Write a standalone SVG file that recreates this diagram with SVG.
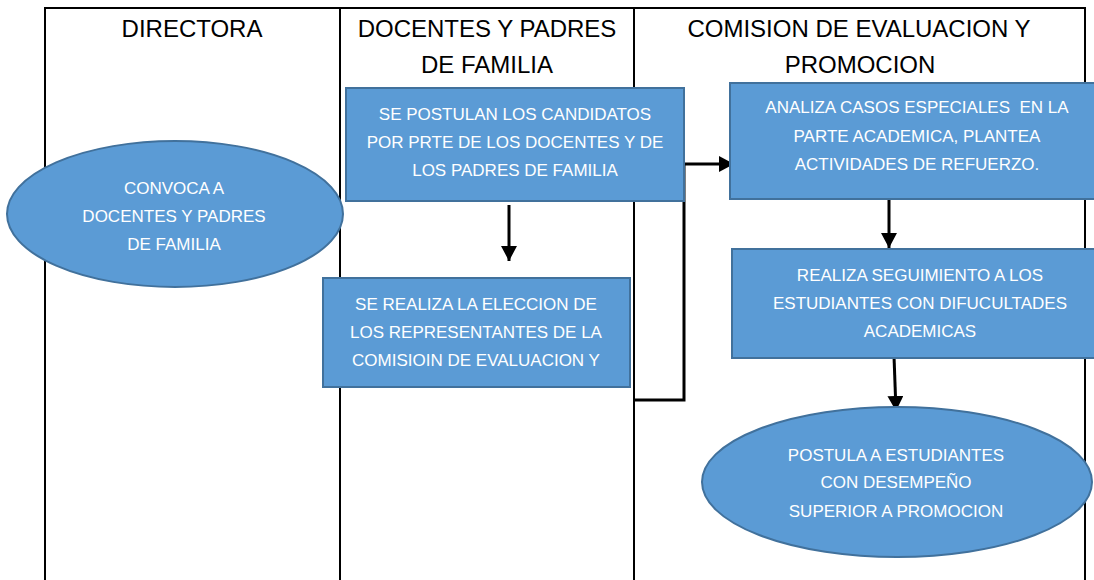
<svg xmlns="http://www.w3.org/2000/svg" width="1094" height="580" viewBox="0 0 1094 580">
<style>
.lane{fill:none;stroke:#000;stroke-width:2}
.hdr{font-family:"Liberation Sans",Arial,sans-serif;font-size:24px;fill:#000;text-anchor:middle}
.box{fill:#5B9BD5;stroke:#41719C;stroke-width:2}
.t{font-family:"Liberation Sans",Arial,sans-serif;font-size:17px;fill:#fff;text-anchor:middle;white-space:pre}
.conn{fill:none;stroke:#000;stroke-width:3}
</style>
<defs>
<marker id="ah" markerUnits="userSpaceOnUse" markerWidth="16" markerHeight="16" refX="15" refY="8" orient="auto">
<path d="M0,0 L15,8 L0,16 Z" fill="#000"/>
</marker>
</defs>
<rect width="1094" height="580" fill="#fff"/>
<g id="lanes">
<path class="lane" d="M45,580 V8 H1085 V580"/>
<path class="lane" d="M340,8 V580"/>
<path class="lane" d="M634,8 V580"/>
<text class="hdr" x="192" y="37">DIRECTORA</text>
<text class="hdr" x="487" y="37">DOCENTES Y PADRES</text>
<text class="hdr" x="487" y="73">DE FAMILIA</text>
<text class="hdr" x="859" y="37">COMISION DE EVALUACION Y</text>
<text class="hdr" x="860" y="73">PROMOCION</text>
</g>
<g id="connectors">
<path class="conn" d="M509,205 V261" marker-end="url(#ah)"/>
<path class="conn" d="M634,400 H684 V164 H734" marker-end="url(#ah)"/>
<path class="conn" d="M889,193 V248" marker-end="url(#ah)"/>
<path class="conn" d="M894,356 L896,411" marker-end="url(#ah)"/>
</g>
<g id="n1">
<ellipse class="box" cx="175" cy="214" rx="168" ry="73"/>
<text class="t" x="174" y="194">CONVOCA A</text>
<text class="t" x="174" y="222">DOCENTES Y PADRES</text>
<text class="t" x="174" y="250">DE FAMILIA</text>
</g>
<g id="n2">
<rect class="box" x="346" y="88" width="338" height="113"/>
<text class="t" x="515" y="120">SE POSTULAN LOS CANDIDATOS</text>
<text class="t" x="515" y="148">POR PRTE DE LOS DOCENTES Y DE</text>
<text class="t" x="515" y="176">LOS PADRES DE FAMILIA</text>
</g>
<g id="n3">
<rect class="box" x="323" y="278" width="307" height="109"/>
<text class="t" x="476" y="310">SE REALIZA LA ELECCION DE</text>
<text class="t" x="476" y="338">LOS REPRESENTANTES DE LA</text>
<text class="t" x="476" y="366">COMISIOIN DE EVALUACION Y</text>
</g>
<g id="n4">
<rect class="box" x="730" y="83" width="376" height="116"/>
<text class="t" x="917" y="113" xml:space="preserve">ANALIZA CASOS ESPECIALES  EN LA</text>
<text class="t" x="917" y="142">PARTE ACADEMICA, PLANTEA</text>
<text class="t" x="917" y="170">ACTIVIDADES DE REFUERZO.</text>
</g>
<g id="n5">
<rect class="box" x="732" y="249" width="376" height="109"/>
<text class="t" x="920" y="281">REALIZA SEGUIMIENTO A LOS</text>
<text class="t" x="920" y="309">ESTUDIANTES CON DIFUCULTADES</text>
<text class="t" x="920" y="337">ACADEMICAS</text>
</g>
<g id="n6">
<ellipse class="box" cx="897" cy="482" rx="195" ry="75"/>
<text class="t" x="896" y="461">POSTULA A ESTUDIANTES</text>
<text class="t" x="896" y="488">CON DESEMPEÑO</text>
<text class="t" x="896" y="517">SUPERIOR A PROMOCION</text>
</g>
</svg>
